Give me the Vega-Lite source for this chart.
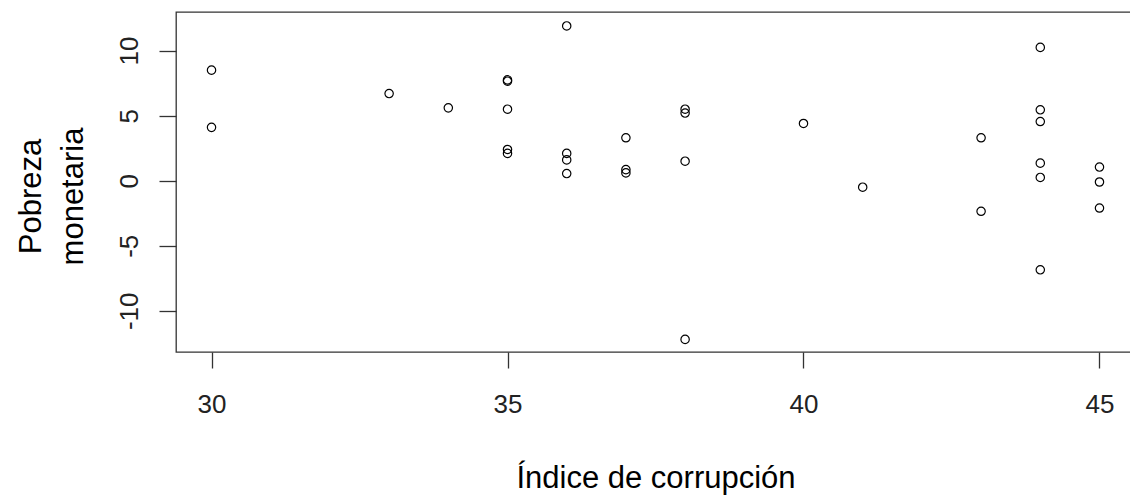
{
  "$schema": "https://vega.github.io/schema/vega-lite/v6.json",
  "autosize": {"type": "none"},
  "padding": {"left": 176, "top": 12, "right": 0, "bottom": 147},
  "width": 959,
  "height": 340,
  "background": "white",
  "config": {
    "view": {"stroke": "#333333", "strokeWidth": 1.3},
    "font": "Liberation Sans"
  },
  "data": {
    "values": [
      {"corrupcion": 30, "pobreza": 8.5},
      {"corrupcion": 30, "pobreza": 4.1},
      {"corrupcion": 33, "pobreza": 6.7},
      {"corrupcion": 34, "pobreza": 5.6},
      {"corrupcion": 35, "pobreza": 7.75},
      {"corrupcion": 35, "pobreza": 7.65},
      {"corrupcion": 35, "pobreza": 5.5},
      {"corrupcion": 35, "pobreza": 2.4},
      {"corrupcion": 35, "pobreza": 2.1},
      {"corrupcion": 36, "pobreza": 11.9},
      {"corrupcion": 36, "pobreza": 2.1},
      {"corrupcion": 36, "pobreza": 1.6},
      {"corrupcion": 36, "pobreza": 0.55},
      {"corrupcion": 37, "pobreza": 3.3},
      {"corrupcion": 37, "pobreza": 0.85},
      {"corrupcion": 37, "pobreza": 0.6},
      {"corrupcion": 38, "pobreza": 5.5},
      {"corrupcion": 38, "pobreza": 5.2},
      {"corrupcion": 38, "pobreza": 1.5},
      {"corrupcion": 38, "pobreza": -12.2},
      {"corrupcion": 40, "pobreza": 4.4},
      {"corrupcion": 41, "pobreza": -0.5},
      {"corrupcion": 43, "pobreza": 3.3},
      {"corrupcion": 43, "pobreza": -2.35},
      {"corrupcion": 44, "pobreza": 10.25},
      {"corrupcion": 44, "pobreza": 5.45},
      {"corrupcion": 44, "pobreza": 4.55},
      {"corrupcion": 44, "pobreza": 1.35},
      {"corrupcion": 44, "pobreza": 0.25},
      {"corrupcion": 44, "pobreza": -6.85},
      {"corrupcion": 45, "pobreza": 1.05},
      {"corrupcion": 45, "pobreza": -0.1},
      {"corrupcion": 45, "pobreza": -2.1}
    ]
  },
  "mark": {"type": "point", "shape": "circle", "filled": false, "size": 70, "stroke": "black", "strokeWidth": 1.2, "opacity": 1},
  "encoding": {
    "x": {
      "field": "corrupcion",
      "type": "quantitative",
      "scale": {"domain": [29.4, 45.6], "nice": false, "zero": false},
      "axis": {
        "values": [30, 35, 40, 45],
        "grid": false,
        "domain": false,
        "tickSize": 16,
        "tickWidth": 1.3,
        "tickColor": "#333333",
        "labelFontSize": 26,
        "labelColor": "#222222",
        "labelPadding": 23,
        "labelBaseline": "top",
        "labelFlush": false,
        "labelExpr": "datum.value + ''",
        "title": "Índice de corrupción",
        "titleFontSize": 31,
        "titleFontWeight": "normal",
        "titleColor": "black",
        "titleBaseline": "alphabetic",
        "titleY": 135
      }
    },
    "y": {
      "field": "pobreza",
      "type": "quantitative",
      "scale": {"domain": [-13.17, 12.97], "nice": false, "zero": false},
      "axis": {
        "values": [-10, -5, 0, 5, 10],
        "grid": false,
        "domain": false,
        "tickSize": 17,
        "tickWidth": 1.3,
        "tickColor": "#333333",
        "labelFontSize": 26,
        "labelColor": "#222222",
        "labelAngle": -90,
        "labelAlign": "center",
        "labelBaseline": "alphabetic",
        "labelPadding": 22,
        "labelFlush": false,
        "labelExpr": "datum.value + ''",
        "title": ["Pobreza", "monetaria"],
        "titleFontSize": 31,
        "titleFontWeight": "normal",
        "titleColor": "black",
        "titleAngle": -90,
        "titleAlign": "center",
        "titleBaseline": "alphabetic",
        "titleLineHeight": 42,
        "titleX": -136,
        "titleY": 184
      }
    }
  }
}
